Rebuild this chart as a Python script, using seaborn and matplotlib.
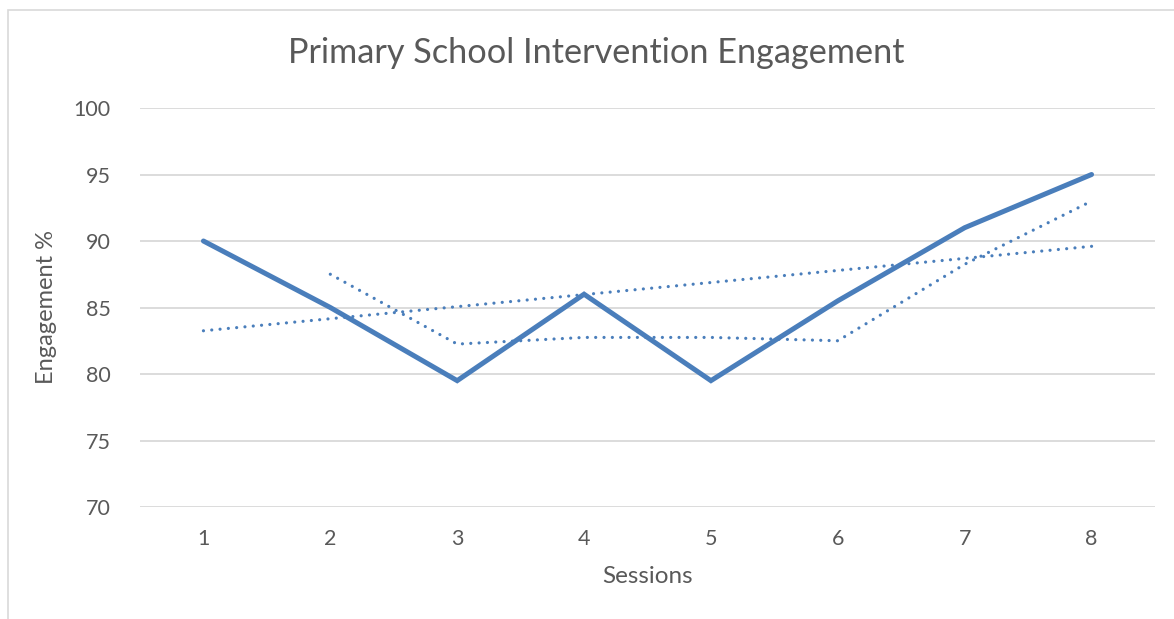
import matplotlib
matplotlib.use('Agg')
import matplotlib.pyplot as plt
import seaborn as sns
import pandas as pd
from matplotlib.patches import Rectangle

# values
sessions = [1, 2, 3, 4, 5, 6, 7, 8]
engagement = [90, 85, 79.5, 86, 79.5, 85.5, 91, 95]

# dotted trend lines (linear + 2-period moving average)
trend_x = [1, 8]
trend_y = [83.25, 89.6]
avg_x = [2, 3, 4, 5, 6, 7, 8]
avg_y = [87.5, 82.25, 82.75, 82.75, 82.5, 88.25, 93]

y_ticks = [70, 75, 80, 85, 90, 95, 100]

blue = '#4a7ebb'
grey_txt = '#595959'
grid_col = '#d9d9d9'

sns.set_style('white')
plt.rcParams['font.family'] = ['Lato', 'DejaVu Sans']

df = pd.DataFrame({'session': sessions, 'engagement': engagement})

fig = plt.figure(figsize=(11.74, 6.19), dpi=100)
ax = fig.add_axes([140 / 1174, 1 - 507 / 619, (1155 - 140) / 1174, (507 - 108) / 619])

# chart border (cropped on right and bottom like the screenshot)
fig.patches.append(Rectangle((8 / 1174, -0.1), 1.2, 1 - 9.5 / 619 + 0.1,
                             transform=fig.transFigure, fill=False,
                             edgecolor=grid_col, linewidth=1.2))

dots = (0, (0.01, 2.6))
sns.lineplot(data=df, x='session', y='engagement', ax=ax, color=blue,
             linewidth=3.6, solid_capstyle='round', solid_joinstyle='miter')
sns.lineplot(x=trend_x, y=trend_y, ax=ax, color=blue, linewidth=2.3,
             linestyle=dots, dash_capstyle='round')
sns.lineplot(x=avg_x, y=avg_y, ax=ax, color=blue, linewidth=2.3,
             linestyle=dots, dash_capstyle='round')

ax.set_xlim(0.5, 8.5)
ax.set_ylim(70, 100)
ax.set_yticks(y_ticks)
ax.set_xticks(sessions)
ax.yaxis.grid(True, color=grid_col, linewidth=1.3)
ax.xaxis.grid(False)
for s in ax.spines.values():
    s.set_visible(False)
ax.tick_params(axis='both', length=0, labelsize=15.5, colors=grey_txt)
ax.tick_params(axis='y', pad=21)
ax.tick_params(axis='x', pad=16)

ax.set_xlabel('Sessions', fontsize=17.5, color=grey_txt, labelpad=12)
ax.set_ylabel('Engagement %', fontsize=17, color=grey_txt, labelpad=12)
fig.text(596 / 1174, 1 - 53 / 619, 'Primary School Intervention Engagement',
         ha='center', va='center', fontsize=24.7, color=grey_txt)

fig.savefig('out.png', dpi=100)
